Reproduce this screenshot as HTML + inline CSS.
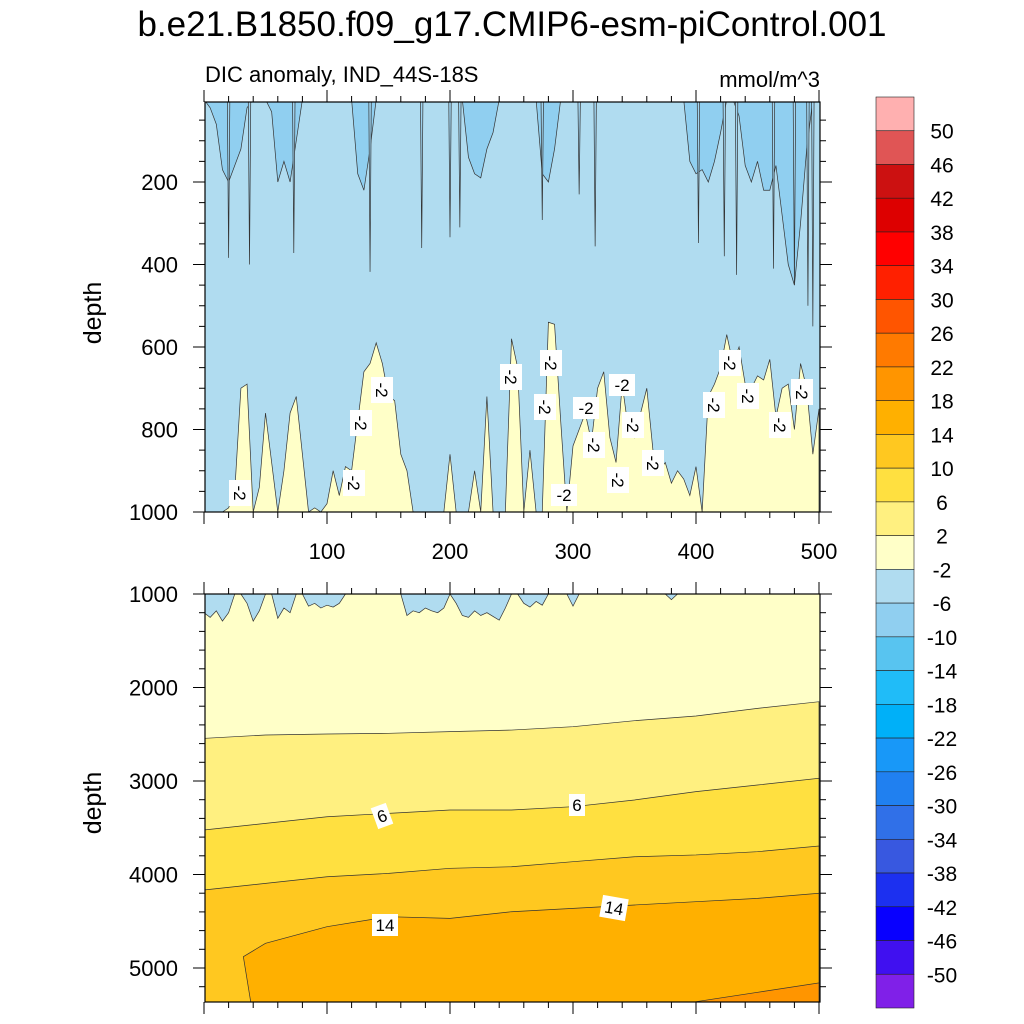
<!DOCTYPE html>
<html><head><meta charset="utf-8"><style>
html,body{margin:0;padding:0;background:#fff}
svg{display:block;font-family:"Liberation Sans",sans-serif}
</style></head><body>
<svg id="chart" width="1024" height="1024" viewBox="0 0 1024 1024" xmlns="http://www.w3.org/2000/svg">
<defs>
<clipPath id="clipTop"><rect x="205" y="102" width="615" height="410"/></clipPath>
<clipPath id="clipBot"><rect x="205" y="594" width="615" height="408"/></clipPath>
</defs>
<text x="512" y="36" font-size="35" text-anchor="middle">b.e21.B1850.f09_g17.CMIP6-esm-piControl.001</text>
<text x="205" y="82" font-size="22">DIC anomaly, IND_44S-18S</text>
<text x="820" y="87" font-size="22" text-anchor="end">mmol/m^3</text>
<text transform="translate(101,313) rotate(-90)" font-size="25" text-anchor="middle">depth</text>
<text transform="translate(101,803) rotate(-90)" font-size="25" text-anchor="middle">depth</text>
<g id="topPanel" clip-path="url(#clipTop)"></g>
<g id="botPanel" clip-path="url(#clipBot)"></g>
<g id="labels"></g>
<g id="axes"></g>
<g id="cbar"></g>
</svg>
<script>
// ---- data ----
const timeStep = [0,5,10,15,20,25,30,35,40,45,50,55,60,65,70,75,80,85,90,95,100,105,110,115,120,125,130,135,140,145,150,155,160,165,170,175,180,185,190,195,200,205,210,215,220,225,230,235,240,245,250,255,260,265,270,275,280,285,290,295,300,305,310,315,320,325,330,335,340,345,350,355,360,365,370,375,380,385,390,395,400,405,410,415,420,425,430,435,440,445,450,455,460,465,470,475,480,485,490,495,500];
// depth of the -2 contour (yellow region top) in upper panel
const yellowTop = [1000,1000,1000,1000,990,950,700,690,1000,940,760,880,1000,900,760,720,860,1000,990,1000,980,900,960,890,900,780,660,640,590,640,720,730,860,900,1000,1000,1000,1000,1000,1000,860,1000,1000,1000,900,1000,720,1000,1000,1000,580,650,1000,850,1000,1000,540,545,780,1000,840,800,760,830,700,660,820,880,690,800,820,760,700,850,900,880,930,900,920,960,890,1000,720,690,650,570,640,600,690,700,670,680,630,770,700,690,800,640,700,860,750];
// depth of the -6 contour hanging from surface
const darkDepth = [0,20,60,170,200,160,120,20,0,0,0,30,200,150,200,100,0,0,0,0,0,0,0,0,0,180,220,120,0,0,0,0,0,0,0,0,0,0,0,0,0,0,0,140,180,190,120,80,0,0,0,0,0,0,0,180,200,120,0,0,0,0,0,0,0,0,0,0,0,0,0,0,0,0,0,0,0,0,0,150,180,170,200,150,80,0,0,40,160,200,150,220,220,160,280,400,450,300,120,0,0];
// thin deep spikes of the -2 contour from surface
const spikeT = [20,37,73,135,177,200,208,275,305,318,402,423,433,463,480,491,495];
const spikeD = [384,400,372,418,360,334,310,292,230,356,348,380,425,410,450,500,550];
// lower panel contour depths
const lineT = [0,50,100,150,200,250,300,350,400,450,500];
const line2 = [2544,2508,2497,2490,2472,2455,2419,2355,2305,2223,2152];
const line6 = [3524,3453,3382,3346,3310,3310,3275,3203,3114,3043,2971];
const line10 = [4166,4095,4024,3988,3934,3917,3863,3810,3791,3756,3695];
const t14 = [38,32,50,100,150,200,250,300,350,400,450,500];
const line14 = [5364,4879,4736,4558,4451,4469,4398,4362,4326,4291,4255,4201];
const t18 = [398,450,500];
const line18 = [5364,5260,5160];
// blue (< -2) intrusions at top of lower panel
const bottomBlue = [1200,1250,1180,1290,1200,1000,1000,1100,1290,1180,1000,1000,1260,1150,1200,1000,1000,1130,1100,1150,1120,1140,1100,1000,1000,1000,1000,1000,1000,1000,1000,1000,1000,1230,1180,1200,1150,1180,1200,1150,1000,1100,1230,1250,1180,1230,1200,1240,1280,1150,1000,1000,1100,1140,1080,1120,1000,1000,1000,1000,1130,1000,1000,1000,1000,1000,1000,1000,1000,1000,1000,1000,1000,1000,1000,1000,1060,1000,1000,1000,1000,1000,1000,1000,1000,1000,1000,1000,1000,1000,1000,1000,1000,1000,1000,1000,1000,1000,1000,1000,1000];
const xTicks = [100,200,300,400,500];
const yTicksTop = [200,400,600,800,1000];
const yTicksBot = [1000,2000,3000,4000,5000];
const cbLabels = [50,46,42,38,34,30,26,22,18,14,10,6,2,-2,-6,-10,-14,-18,-22,-26,-30,-34,-38,-42,-46,-50];
const cbColors = ["#ffb0b0","#e05555","#cc1111","#dd0000","#ff0000","#ff2000","#ff5500","#ff7a00","#ff9500","#ffb000","#ffc820","#ffe040","#fff080","#ffffc8","#b0dcf0","#90cff0","#58c4f0","#20bcf8","#00b0f8","#1898f8","#2080f0","#3070e8","#3858e0","#1c30f0","#0800ff","#4010f0","#8020e8"];
const topLabels = [[240,493,90,"-2"],[361,423,90,"-2"],[382,390,90,"-2"],[354,483,90,"-2"],[511,377,90,"-2"],[551,363,90,"-2"],[545,407,90,"-2"],[586,408,0,"-2"],[622,385,0,"-2"],[594,445,90,"-2"],[633,425,90,"-2"],[564,495,0,"-2"],[618,480,90,"-2"],[653,463,90,"-2"],[714,405,90,"-2"],[730,363,90,"-2"],[748,396,90,"-2"],[780,425,90,"-2"],[802,392,90,"-2"]];
const botLabels = [[382,816,-20,"6"],[577,805,0,"6"],[385,925,0,"14"],[614,908,10,"14"]];

// ---- scales ----
const xT = t => 204 + t*1.23;
const yT = d => 99.5 + d*0.4125;
const yB = d => 594 + (d-1000)*0.0935;
const NS = "http://www.w3.org/2000/svg";
function mk(tag, parent, attrs){const e=document.createElementNS(NS,tag);for(const k in attrs)e.setAttribute(k,attrs[k]);parent.appendChild(e);return e;}
const topG = document.getElementById('topPanel');
const botG = document.getElementById('botPanel');
const ST = "#333", SW = 0.7;

// top panel
let r = mk('rect', topG, {x:205,y:102,width:615,height:410,fill:"#b0dcf0"});


let d = "M"+xT(0)+","+yT(1000);
timeStep.forEach((t,i)=>{ d += " L"+xT(t)+","+yT(yellowTop[i]); });
d += " L"+xT(500)+","+yT(1000)+" Z";
let p = mk('path', topG, {d:d, fill:"#ffffc8", stroke:ST, "stroke-width":SW});


d = "M"+xT(0)+","+yT(0);
timeStep.forEach((t,i)=>{ d += " L"+xT(t)+","+yT(darkDepth[i]); });
d += " L"+xT(500)+","+yT(0)+" Z";
p = mk('path', topG, {d:d, fill:"#90cff0", stroke:ST, "stroke-width":SW});


spikeT.forEach((t,i)=>{
  const s = mk('path', topG, {d:"M"+xT(t-1)+","+yT(0)+" L"+xT(t)+","+yT(spikeD[i])+" L"+xT(t+1)+","+yT(0), fill:"#a0d4f0", stroke:ST, "stroke-width":SW});
  
  
});

// bottom panel
r = mk('rect', botG, {x:205,y:594,width:615,height:408,fill:"#ffffc8"});


function band(ts, ds, fill, name){
  let s = "M"+xT(ts[0])+","+yB(ds[0]);
  ts.forEach((t,i)=>{ s += " L"+xT(t)+","+yB(ds[i]); });
  s += " L"+xT(ts[ts.length-1])+",1010 L"+xT(ts[0])+",1010 Z";
  const e = mk('path', botG, {d:s, fill:fill, stroke:ST, "stroke-width":SW});
  
  
}
band(lineT, line2, "#fff080", 'band-2-6');
band(lineT, line6, "#ffe040", 'band-6-10');
band(lineT, line10, "#ffc820", 'band-10-14');
band(t14, line14, "#ffb000", 'band-14-18');
band(t18, line18, "#ff9500", 'band-18-22');
d = "M"+xT(0)+","+yB(1000);
timeStep.forEach((t,i)=>{ d += " L"+xT(t)+","+yB(bottomBlue[i]); });
d += " L"+xT(500)+","+yB(1000)+" Z";
p = mk('path', botG, {d:d, fill:"#b0dcf0", stroke:ST, "stroke-width":SW});



// labels
const lab = document.getElementById('labels');
topLabels.concat(botLabels).forEach(L=>{
  const g = mk('g', lab, {transform:"translate("+L[0]+","+L[1]+") rotate("+L[2]+")"});
  
  
  const w = L[3].length*10+6;
  mk('rect', g, {x:-w/2, y:-11, width:w, height:22, fill:"#fff"});
  const tx = mk('text', g, {x:0, y:6, "font-size":17, "text-anchor":"middle"});
  tx.textContent = L[3];
});

// axes
const ax = document.getElementById('axes');
function line(x1,y1,x2,y2,w){ mk('line', ax, {x1:x1,y1:y1,x2:x2,y2:y2,stroke:"#000","stroke-width":w||1}); }
function txt(x,y,s,anchor,name){ const e=mk('text', ax, {x:x,y:y,"font-size":22,"text-anchor":anchor}); e.textContent=s;
  
   }
[[102,512],[594,1002]].forEach(([y0,y1],pi)=>{
  mk('rect', ax, {x:205,y:y0,width:615,height:y1-y0,fill:"none",stroke:"#000","stroke-width":1.2});
  for(let t=0;t<=500;t+=20){
    const x=xT(t); const L=(t%100===0)?12:6;
    line(x,y1,x,y1+L); line(x,y0,x,y0-L);
  }
});
for(let dd=50; dd<=1000; dd+=50){
  const y=yT(dd); if(y<102) continue; const L=(dd%200===0)?12:6;
  line(205,y,205-L,y); line(820,y,820+L,y);
}
for(let dd=1000; dd<=5300; dd+=200){
  const y=yB(dd); const L=(dd%1000===0)?12:6;
  line(205,y,205-L,y); line(820,y,820+L,y);
}
xTicks.forEach(t=>txt(xT(t),559,String(t),"middle",'x-tick-label'));
yTicksTop.forEach(v=>txt(178,yT(v)+8,String(v),"end",'top-y-tick-label'));
yTicksBot.forEach(v=>txt(178,yB(v)+8,String(v),"end",'bottom-y-tick-label'));

// colorbar
const cb = document.getElementById('cbar');
const cbTop=97, cbH=(1008-97)/27;
cbColors.forEach((c,i)=>{
  const b = mk('rect', cb, {x:876,y:cbTop+i*cbH,width:38,height:cbH,fill:c,stroke:"#222","stroke-width":0.6});
  
  
});
cbLabels.forEach((v,i)=>{
  const e = mk('text', cb, {x:942,y:cbTop+(i+1)*cbH+8,"font-size":21,"text-anchor":"middle"});
  e.textContent = String(v);
  
  
});
</script>
</body></html>
